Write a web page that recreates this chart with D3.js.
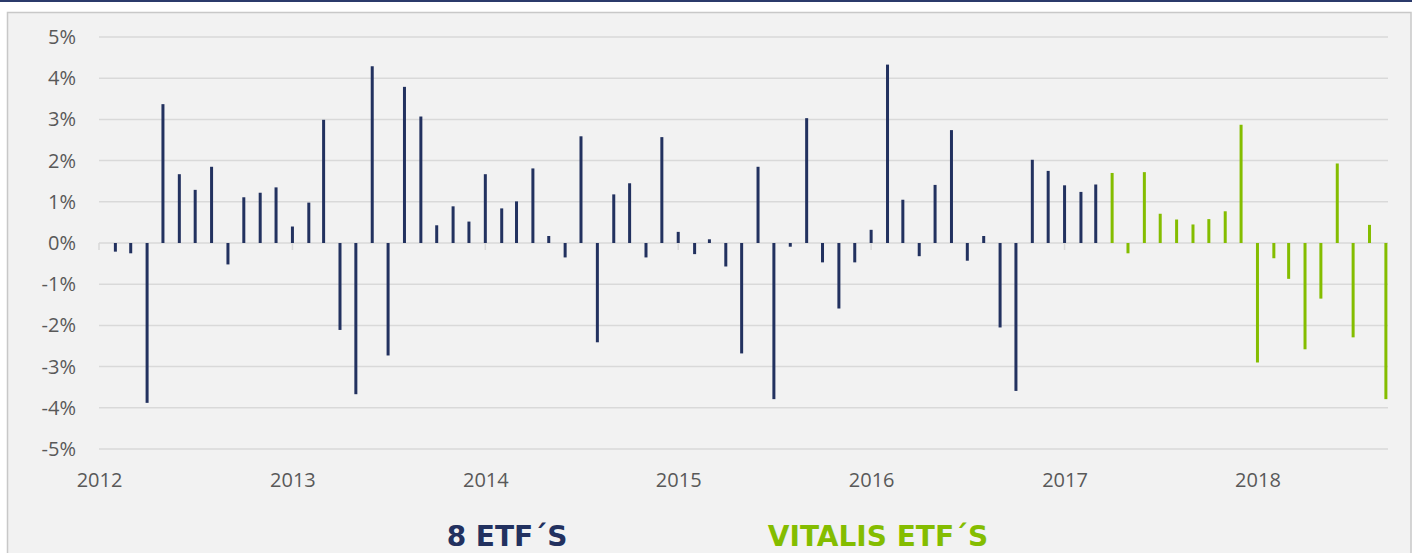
<!DOCTYPE html>
<html>
<head>
<meta charset="utf-8">
<script src="https://cdn.jsdelivr.net/npm/d3@7"></script>
<style>
  html, body { margin: 0; padding: 0; background: #ffffff; }
  svg { display: block; }
</style>
</head>
<body>
<svg id="chart" width="1412" height="553"></svg>
<script>
// Monthly returns, first month Feb 2012
const startMonth = "2012-02";
// 8 ETF´S portfolio, Feb 2012 – Mar 2017
const etf8Returns = [
  -0.21, -0.25, -3.88, 3.37, 1.67, 1.29, 1.85, -0.52, 1.11, 1.22, 1.35,
  0.40, 0.98, 2.99, -2.11, -3.67, 4.29, -2.73, 3.79, 3.07, 0.43, 0.89, 0.52,
  1.67, 0.84, 1.01, 1.81, 0.17, -0.35, 2.59, -2.41, 1.18, 1.45, -0.35, 2.57,
  0.27, -0.27, 0.09, -0.57, -2.68, 1.85, -3.79, -0.09, 3.03, -0.47, -1.59, -0.47,
  0.32, 4.33, 1.05, -0.32, 1.41, 2.74, -0.43, 0.17, -2.05, -3.59, 2.02, 1.75,
  1.40, 1.24, 1.42
];
// VITALIS ETF´S portfolio, Apr 2017 – Sep 2018
const vitalisReturns = [
  1.70, -0.25, 1.72, 0.71, 0.57, 0.45, 0.58, 0.77, 2.87,
  -2.90, -0.37, -0.87, -2.58, -1.35, 1.93, -2.29, 0.44, -3.79
];
const yTicks = [-5, -4, -3, -2, -1, 0, 1, 2, 3, 4, 5];
const seriesNames = ["8 ETF´S", "VITALIS ETF´S"];
const seriesColors = ["#22315f", "#84bd00"];

const svg = d3.select("#chart");
const W = 1412, H = 553;

// frame: navy rule on top, light grey panel below
svg.append("rect").attr("x", 0).attr("y", 0).attr("width", W).attr("height", 2).attr("fill", "#2b3a6b");
svg.append("rect").attr("x", 7.5).attr("y", 12.5).attr("width", W - 8.5).attr("height", H)
  .attr("fill", "#f2f2f2").attr("stroke", "#c8c8c8").attr("stroke-width", 1.5);

const parseMonth = d3.timeParse("%Y-%m");
const first = parseMonth(startMonth);
const points = [];
etf8Returns.forEach((v, i) => points.push({ date: d3.timeMonth.offset(first, i), value: v, series: 0 }));
vitalisReturns.forEach((v, i) => points.push({ date: d3.timeMonth.offset(first, etf8Returns.length + i), value: v, series: 1 }));

const xt = d3.scaleTime()
  .domain([new Date(2012, 0, 1), new Date(2018, 8, 5)])
  .range([99, 1388]);
const y = d3.scaleLinear().domain([-5, 5]).range([449, 37]);

// horizontal gridlines
svg.append("g").selectAll("line").data(yTicks).join("line")
  .attr("x1", 99).attr("x2", 1388)
  .attr("y1", d => y(d)).attr("y2", d => y(d))
  .attr("stroke", "#d9d9d9").attr("stroke-width", 1.5);

// y axis labels
const yAxis = d3.axisLeft(y).tickValues(yTicks).tickSize(0).tickPadding(0)
  .tickFormat(d => d + "%");
svg.append("g").attr("transform", "translate(76,0)").call(yAxis)
  .call(g => g.select(".domain").remove())
  .selectAll("text")
  .attr("font-family", "'Open Sans', sans-serif").attr("font-size", 20).attr("fill", "#595959");

// x axis: year ticks hanging from the zero line, labels near the bottom
const years = d3.timeYear.range(new Date(2012, 0, 1), new Date(2018, 8, 5));
svg.append("g").selectAll("line").data(years).join("line")
  .attr("x1", d => xt(d)).attr("x2", d => xt(d))
  .attr("y1", y(0)).attr("y2", y(0) + 7)
  .attr("stroke", "#d9d9d9").attr("stroke-width", 1.5);

const xAxis = d3.axisBottom(xt).tickValues(years).tickSize(0).tickPadding(0)
  .tickFormat(d3.timeFormat("%Y"));
svg.append("g").attr("transform", "translate(0,473)").call(xAxis)
  .call(g => g.select(".domain").remove())
  .selectAll("text")
  .attr("dy", "0.71em")
  .attr("font-family", "'Open Sans', sans-serif").attr("font-size", 20).attr("fill", "#595959");

// monthly bars
const barW = 3;
svg.append("g").selectAll("rect").data(points).join("rect")
  .attr("x", d => xt(d.date) - barW / 2)
  .attr("y", d => y(Math.max(0, d.value)))
  .attr("width", barW)
  .attr("height", d => Math.abs(y(d.value) - y(0)))
  .attr("fill", d => seriesColors[d.series]);

// legend
const legendX = [507, 878];
svg.append("g").selectAll("text").data(seriesNames).join("text")
  .attr("x", (d, i) => legendX[i]).attr("y", 546)
  .attr("text-anchor", "middle")
  .attr("font-family", "'DejaVu Sans', Verdana, sans-serif")
  .attr("font-weight", "bold").attr("font-size", 28)
  .attr("fill", (d, i) => seriesColors[i])
  .text(d => d);
</script>
</body>
</html>
